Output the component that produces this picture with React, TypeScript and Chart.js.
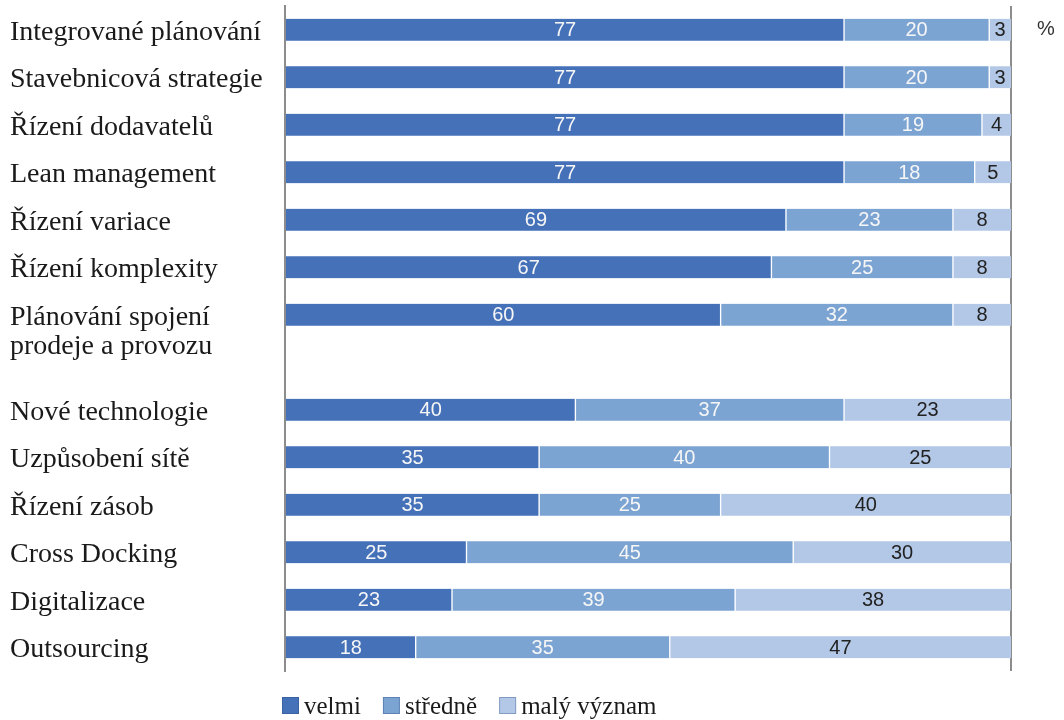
import React, { useEffect, useRef } from 'react';
import { Chart, registerables } from 'chart.js';

Chart.register(...registerables);

// ---- data ----
const categories: string[][] = [
  ['Integrované plánování'],
  ['Stavebnicová strategie'],
  ['Řízení dodavatelů'],
  ['Lean management'],
  ['Řízení variace'],
  ['Řízení komplexity'],
  ['Plánování spojení', 'prodeje a provozu'],
  ['Nové technologie'],
  ['Uzpůsobení sítě'],
  ['Řízení zásob'],
  ['Cross Docking'],
  ['Digitalizace'],
  ['Outsourcing'],
];
const velmi = [77, 77, 77, 77, 69, 67, 60, 40, 35, 35, 25, 23, 18];
const stredne = [20, 20, 19, 18, 23, 25, 32, 37, 40, 25, 45, 39, 35];
const malyVyznam = [3, 3, 4, 5, 8, 8, 8, 23, 25, 40, 30, 38, 47];
const seriesNames = ['velmi', 'středně', 'malý význam'];
const unitLabel = '%';
// a blank row separates the two groups of categories
const groupBreakAfter = 6;

// ---- styles ----
const seriesColors = ['#4571b9', '#7ca4d3', '#b3c8e6'];
const valueColors = ['#f6f6f6', '#f6f6f6', '#222222'];
const axisColor = '#8c8c8c';
const serif = '"Liberation Serif", "Times New Roman", serif';
const sans = '"Liberation Sans", Arial, sans-serif';

function withGap<T>(arr: T[], filler: T): T[] {
  return [...arr.slice(0, groupBreakAfter + 1), filler, ...arr.slice(groupBreakAfter + 1)];
}

const chartLines: (string[] | null)[] = withGap<string[] | null>(categories, null);
const chartLabels = chartLines.map((l) => (l ? l.join(' ') : ''));

const overlayPlugin = {
  id: 'overlay',
  afterDraw(chart: any) {
    const ctx = chart.ctx as CanvasRenderingContext2D;
    const yScale = chart.scales.y;
    const area = chart.chartArea;
    ctx.save();

    // category labels (left aligned)
    ctx.font = `28px ${serif}`;
    ctx.fillStyle = '#1a1a1a';
    ctx.textAlign = 'left';
    ctx.textBaseline = 'alphabetic';
    chartLines.forEach((lines, j) => {
      if (!lines) return;
      const y = yScale.getPixelForValue(j);
      lines.forEach((line, k) => ctx.fillText(line, 10, y + 10 + k * 29));
    });

    // value labels inside segments
    ctx.font = `20px ${sans}`;
    ctx.textAlign = 'center';
    ctx.textBaseline = 'middle';
    chart.data.datasets.forEach((ds: any, di: number) => {
      const meta = chart.getDatasetMeta(di);
      ctx.fillStyle = valueColors[di];
      meta.data.forEach((el: any, i: number) => {
        const v = ds.data[i];
        if (v === null || v === undefined) return;
        const cx = (el.x + el.base) / 2;
        ctx.fillText(String(v), cx, el.y + 1);
      });
    });

    // unit label
    ctx.fillStyle = '#333333';
    ctx.font = `20px ${sans}`;
    ctx.fillText(unitLabel, area.right + 35, yScale.getPixelForValue(0));

    // legend
    ctx.font = `25px ${serif}`;
    ctx.textAlign = 'left';
    ctx.textBaseline = 'alphabetic';
    let x = area.left - 3;
    const boxTop = area.bottom + 26;
    seriesNames.forEach((name, i) => {
      ctx.fillStyle = seriesColors[i];
      ctx.fillRect(x, boxTop, 17, 17);
      ctx.strokeStyle = 'rgba(40,70,130,0.35)';
      ctx.lineWidth = 1;
      ctx.strokeRect(x + 0.5, boxTop + 0.5, 16, 16);
      ctx.fillStyle = '#1a1a1a';
      ctx.fillText(name, x + 22, boxTop + 17);
      x += 22 + ctx.measureText(name).width + 22;
    });

    ctx.restore();
  },
};

export default function App() {
  const ref = useRef<HTMLCanvasElement | null>(null);

  useEffect(() => {
    if (!ref.current) return;
    const seriesData = [velmi, stredne, malyVyznam];
    const borders = [
      { left: 0, right: 1, top: 0, bottom: 0 },
      { left: 1, right: 1, top: 0, bottom: 0 },
      { left: 1, right: 0, top: 0, bottom: 0 },
    ];
    const chart = new Chart(ref.current, {
      type: 'bar',
      data: {
        labels: chartLabels,
        datasets: seriesData.map((d, i) => ({
          label: seriesNames[i],
          data: withGap<number | null>(d, null),
          backgroundColor: seriesColors[i],
          borderColor: '#ffffff',
          borderWidth: borders[i],
          borderSkipped: false,
          barThickness: 22,
        })),
      },
      options: {
        indexAxis: 'y',
        responsive: false,
        animation: false,
        events: [],
        layout: { padding: { top: 6, right: 53, bottom: 49, left: 0 } },
        plugins: {
          legend: { display: false },
          tooltip: { enabled: false },
        },
        scales: {
          x: {
            stacked: true,
            min: 0,
            max: 100,
            z: 1,
            ticks: { display: false, stepSize: 100 },
            grid: {
              drawTicks: false,
              lineWidth: 2,
              color: (c: any) => (c.tick && c.tick.value === 100 ? axisColor : 'rgba(0,0,0,0)'),
            },
            border: { display: false },
            afterFit: (s: any) => {
              s.height = 0;
            },
          },
          y: {
            stacked: true,
            z: 1,
            ticks: { display: false },
            grid: { display: false, drawTicks: false },
            border: { display: true, color: axisColor, width: 2 },
            afterFit: (s: any) => {
              s.width = 285;
            },
          },
        },
      } as any,
      plugins: [overlayPlugin],
    });
    return () => chart.destroy();
  }, []);

  return (
    <div style={{ position: 'absolute', left: 0, top: 0, width: 1064, height: 720, background: '#ffffff' }}>
      <canvas ref={ref} width={1064} height={720} style={{ display: 'block' }} />
    </div>
  );
}
